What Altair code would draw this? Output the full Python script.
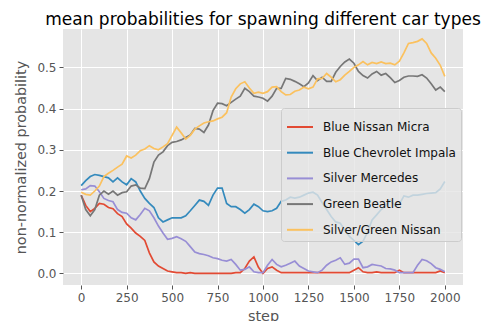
import altair as alt
import pandas as pd

steps = list(range(0, 2001, 25))

series_names = [
    "Blue Nissan Micra",
    "Blue Chevrolet Impala",
    "Silver Mercedes",
    "Green Beatle",
    "Silver/Green Nissan",
]
series_colors = ["#E24A33", "#348ABD", "#988ED5", "#777777", "#FBC15E"]

micra = [
    0.19, 0.165, 0.15, 0.158, 0.17, 0.168, 0.16, 0.157, 0.145, 0.138,
    0.12, 0.11, 0.098, 0.09, 0.08, 0.05, 0.028, 0.018, 0.012, 0.006,
    0.004, 0.002, 0.002, 0.0, 0.002, 0.0, 0.0, 0.0, 0.0, 0.0,
    0.0, 0.0, 0.0, 0.0, 0.002, 0.002, 0.012, 0.03, 0.04, 0.015,
    0.0, 0.012, 0.016, 0.008, 0.002, 0.002, 0.002, 0.002, 0.002, 0.002,
    0.002, 0.002, 0.002, 0.002, 0.002, 0.002, 0.002, 0.002, 0.002, 0.002,
    0.008, 0.014, 0.004, 0.002, 0.002, 0.004, 0.002, 0.002, 0.002, 0.002,
    0.008, 0.002, 0.002, 0.002, 0.002, 0.002, 0.002, 0.002, 0.002, 0.006,
    0.002,
]
impala = [
    0.213, 0.225, 0.235, 0.24, 0.238, 0.235, 0.232, 0.222, 0.232, 0.222,
    0.215, 0.23, 0.222, 0.2, 0.182, 0.17, 0.16, 0.135, 0.125, 0.13,
    0.135, 0.135, 0.135, 0.14, 0.152, 0.165, 0.178, 0.175, 0.165, 0.19,
    0.207, 0.207, 0.17, 0.162, 0.162, 0.155, 0.146, 0.155, 0.168, 0.162,
    0.152, 0.15, 0.152, 0.158, 0.175, 0.178, 0.185, 0.183, 0.185, 0.19,
    0.195, 0.197, 0.19, 0.172, 0.155, 0.138, 0.125, 0.122, 0.105, 0.09,
    0.08, 0.07, 0.078, 0.1, 0.13, 0.142, 0.155, 0.165, 0.178, 0.165,
    0.168, 0.188, 0.185, 0.19, 0.19, 0.192, 0.194, 0.195, 0.196, 0.205,
    0.223,
]
mercedes = [
    0.203, 0.205, 0.213, 0.212, 0.198, 0.182, 0.177, 0.174, 0.155, 0.148,
    0.146, 0.135, 0.13, 0.143, 0.158, 0.152, 0.135, 0.115, 0.098, 0.083,
    0.085, 0.089, 0.084, 0.078, 0.065, 0.052, 0.048, 0.046, 0.043, 0.038,
    0.036, 0.032, 0.03, 0.034, 0.022, 0.008, 0.01, 0.016, 0.004, 0.002,
    0.002, 0.02, 0.034, 0.022, 0.016, 0.02, 0.025, 0.03, 0.018, 0.012,
    0.006, 0.004, 0.002, 0.008, 0.02, 0.028, 0.032, 0.038, 0.022, 0.025,
    0.035, 0.035, 0.014, 0.016, 0.022, 0.02, 0.018, 0.012, 0.011, 0.008,
    0.002, 0.002, 0.002, 0.002, 0.02, 0.034, 0.031, 0.024, 0.014, 0.01,
    0.004,
]
beatle = [
    0.19, 0.155, 0.14, 0.155, 0.19, 0.2, 0.192, 0.2, 0.19, 0.196,
    0.198, 0.212, 0.215, 0.207, 0.206, 0.23, 0.27, 0.287, 0.295, 0.31,
    0.318, 0.32, 0.324, 0.33, 0.336, 0.352, 0.35, 0.342, 0.36, 0.395,
    0.413, 0.412, 0.407, 0.415, 0.423, 0.43, 0.449, 0.441, 0.43, 0.428,
    0.425, 0.418, 0.43, 0.449, 0.449, 0.473, 0.471, 0.466, 0.46, 0.453,
    0.462, 0.48, 0.468, 0.476, 0.466, 0.466, 0.488, 0.502, 0.513, 0.52,
    0.51, 0.49, 0.48, 0.474, 0.484, 0.49, 0.481, 0.485, 0.475, 0.463,
    0.468, 0.476, 0.479, 0.479, 0.478, 0.482, 0.474, 0.46, 0.445, 0.452,
    0.441,
]
sg_nissan = [
    0.197, 0.192, 0.19, 0.2, 0.212, 0.235, 0.243, 0.25, 0.258, 0.265,
    0.285, 0.28, 0.287, 0.298, 0.302, 0.31, 0.303, 0.3, 0.307, 0.315,
    0.335, 0.355, 0.341, 0.326, 0.335, 0.35, 0.358, 0.365, 0.368, 0.37,
    0.375, 0.379, 0.39, 0.428, 0.448, 0.46, 0.465, 0.45, 0.437, 0.44,
    0.437, 0.441, 0.452, 0.453, 0.441, 0.433, 0.434, 0.442, 0.445, 0.452,
    0.448, 0.452, 0.472, 0.473, 0.485, 0.476, 0.465, 0.47, 0.481, 0.49,
    0.5, 0.506, 0.514, 0.506, 0.512, 0.509, 0.513, 0.509, 0.51, 0.506,
    0.515, 0.535, 0.558, 0.56, 0.563, 0.569, 0.558, 0.535, 0.522, 0.505,
    0.478,
]

x_ticks = [0, 250, 500, 750, 1000, 1250, 1500, 1750, 2000]
y_ticks = [0.0, 0.1, 0.2, 0.3, 0.4, 0.5]

all_series = [micra, impala, mercedes, beatle, sg_nissan]
rows = []
for name, vals in zip(series_names, all_series):
    for s, v in zip(steps, vals):
        rows.append({"step": s, "value": v, "car": name})
df = pd.DataFrame(rows)

FONT = "DejaVu Sans"

chart = (
    alt.Chart(df)
    .mark_line(strokeWidth=1.7, clip=True)
    .encode(
        x=alt.X(
            "step:Q",
            scale=alt.Scale(domain=[-100, 2100], nice=False, zero=False),
            axis=alt.Axis(
                values=x_ticks,
                title="step",
                format="d",
            ),
        ),
        y=alt.Y(
            "value:Q",
            scale=alt.Scale(domain=[-0.028, 0.593], nice=False, zero=False),
            axis=alt.Axis(
                values=y_ticks,
                title="non-normalized probability",
                format=".1f",
            ),
        ),
        color=alt.Color(
            "car:N",
            scale=alt.Scale(domain=series_names, range=series_colors),
            sort=series_names,
            legend=alt.Legend(
                orient="none",
                legendX=218,
                legendY=79,
                title=None,
                symbolType="stroke",
                symbolSize=676,
                symbolStrokeWidth=2,
                labelFont=FONT,
                labelFontSize=12,
                labelColor="#111111",
                labelOffset=9,
                rowPadding=5.7,
                padding=5,
                fillColor="rgba(229,229,229,0.8)",
                strokeColor="#CCCCCC",
                cornerRadius=3,
            ),
        ),
        order=alt.Order("step:Q"),
    )
    .properties(
        width=400,
        height=256,
        padding={"left": 55, "top": 21, "right": 23, "bottom": 38},
        autosize=alt.AutoSizeParams(type="none"),
        title=alt.TitleParams(
            text="mean probabilities for spawning different car types",
            font=FONT,
            fontSize=17,
            fontWeight="normal",
            color="#000000",
            anchor="middle",
            offset=0,
        ),
        background="white",
    )
    .configure_view(fill="#E5E5E5", stroke=None)
    .configure_axis(
        domain=False,
        grid=True,
        gridColor="white",
        gridWidth=1,
        tickColor="#555555",
        tickSize=4,
        tickWidth=1,
        labelFont=FONT,
        labelFontSize=12,
        labelColor="#555555",
        labelPadding=3,
        titleFont=FONT,
        titleFontSize=14.4,
        titleFontWeight="normal",
        titleColor="#555555",
    )
    .configure_axisX(titlePadding=6)
    .configure_axisY(titlePadding=8)
)

chart.save("out.html", embed_options={"renderer": "svg", "actions": False})
